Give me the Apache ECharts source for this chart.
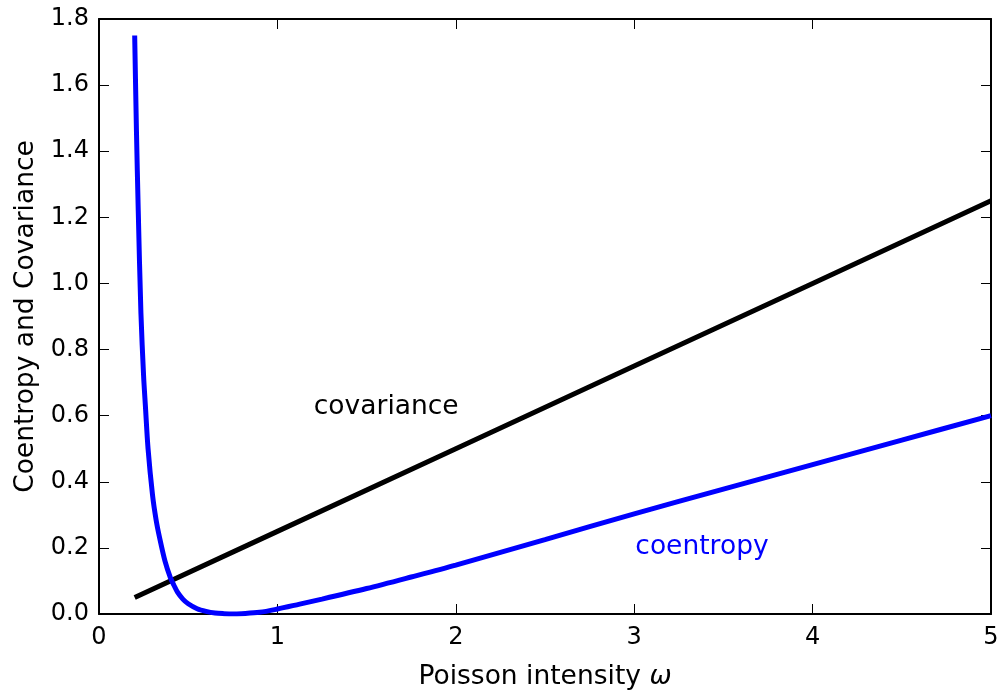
<!DOCTYPE html>
<html>
<head>
<meta charset="utf-8">
<script src="https://cdn.jsdelivr.net/npm/echarts@6/dist/echarts.min.js"></script>
<style>
  html, body { margin: 0; padding: 0; background: #fff; }
  #chart { width: 1006px; height: 696px; }
</style>
</head>
<body>
<div id="chart"></div>
<script>
// values
const omegaCoentropy = [0.2, 0.21, 0.22, 0.235, 0.25, 0.26, 0.275, 0.3, 0.32, 0.34, 0.37, 0.4, 0.42, 0.44, 0.47, 0.5, 0.55, 0.6, 0.65, 0.7, 0.75, 0.8, 0.9, 1.0, 1.125, 1.25, 1.5, 1.75, 2.0, 2.5, 3.0, 3.5, 4.0, 4.5, 5.0];
const coentropy = [1.75, 1.46, 1.22, 0.91, 0.72, 0.63, 0.50, 0.36, 0.285, 0.23, 0.16, 0.11, 0.087, 0.066, 0.045, 0.031, 0.016, 0.008, 0.003, 0.001, 0.0, 0.001, 0.005, 0.015, 0.03, 0.045, 0.077, 0.112, 0.148, 0.225, 0.303, 0.378, 0.452, 0.526, 0.6];

const omegaCovariance = [0.2, 1, 2, 3, 4, 5];
const covariance = [0.05, 0.25, 0.5, 0.75, 1.0, 1.25];

const xTicks = [0, 1, 2, 3, 4, 5];
const yTicks = [0, 0.2, 0.4, 0.6, 0.8, 1.0, 1.2, 1.4, 1.6, 1.8];

// where the two text labels sit, in data units
const covLabelAt = [1.61, 0.625];
const coeLabelAt = [3.38, 0.202];

const font = 'DejaVu Sans';
const chart = echarts.init(document.getElementById('chart'));

function zip(xs, ys) {
  return xs.map((x, i) => [x, ys[i]]);
}

const frameLine = { show: true, onZero: false, lineStyle: { color: '#000', width: 2 } };
const inTick = { show: true, inside: true, length: 10, lineStyle: { color: '#000', width: 1 } };

const option = {
  animation: false,
  backgroundColor: '#fff',
  grid: { left: 99, right: 15, top: 19, bottom: 82, containLabel: false },
  xAxis: [
    {
      type: 'value',
      min: xTicks[0],
      max: xTicks[xTicks.length - 1],
      interval: 1,
      position: 'bottom',
      axisLine: frameLine,
      axisTick: inTick,
      splitLine: { show: false },
      axisLabel: { color: '#000', fontFamily: font, fontSize: 24, margin: 12 },
      name: 'Poisson intensity {i|ω}',
      nameLocation: 'middle',
      nameGap: 50,
      nameTextStyle: {
        color: '#000', fontFamily: font, fontSize: 26.5,
        rich: { i: { fontFamily: font, fontStyle: 'italic', fontSize: 26.5, color: '#000' } }
      }
    },
    {
      type: 'value',
      min: xTicks[0],
      max: xTicks[xTicks.length - 1],
      interval: 1,
      position: 'top',
      axisLine: frameLine,
      axisTick: inTick,
      axisLabel: { show: false },
      splitLine: { show: false }
    }
  ],
  yAxis: [
    {
      type: 'value',
      min: yTicks[0],
      max: yTicks[yTicks.length - 1],
      interval: 0.2,
      position: 'left',
      axisLine: frameLine,
      axisTick: inTick,
      splitLine: { show: false },
      axisLabel: {
        color: '#000', fontFamily: font, fontSize: 24, margin: 10,
        formatter: v => v.toFixed(1)
      },
      name: 'Coentropy and Covariance',
      nameLocation: 'middle',
      nameGap: 57,
      nameTextStyle: { color: '#000', fontFamily: font, fontSize: 26.5 }
    },
    {
      type: 'value',
      min: yTicks[0],
      max: yTicks[yTicks.length - 1],
      interval: 0.2,
      position: 'right',
      axisLine: frameLine,
      axisTick: inTick,
      axisLabel: { show: false },
      splitLine: { show: false }
    }
  ],
  series: [
    {
      name: 'covariance',
      type: 'line',
      data: zip(omegaCovariance, covariance),
      showSymbol: false,
      lineStyle: { color: '#000', width: 5 },
      itemStyle: { color: '#000' },
      markPoint: {
        symbol: 'circle',
        symbolSize: 0,
        data: [{ coord: covLabelAt, value: 'covariance' }],
        label: {
          show: true, position: 'inside', formatter: 'covariance',
          color: '#000', fontFamily: font, fontSize: 26.5
        }
      }
    },
    {
      name: 'coentropy',
      type: 'line',
      data: zip(omegaCoentropy, coentropy),
      showSymbol: false,
      smooth: 0.3,
      lineStyle: { color: '#0000ff', width: 5 },
      itemStyle: { color: '#0000ff' },
      markPoint: {
        symbol: 'circle',
        symbolSize: 0,
        data: [{ coord: coeLabelAt, value: 'coentropy' }],
        label: {
          show: true, position: 'inside', formatter: 'coentropy',
          color: '#0000ff', fontFamily: font, fontSize: 26.5
        }
      }
    }
  ]
};

chart.setOption(option);
</script>
</body>
</html>
